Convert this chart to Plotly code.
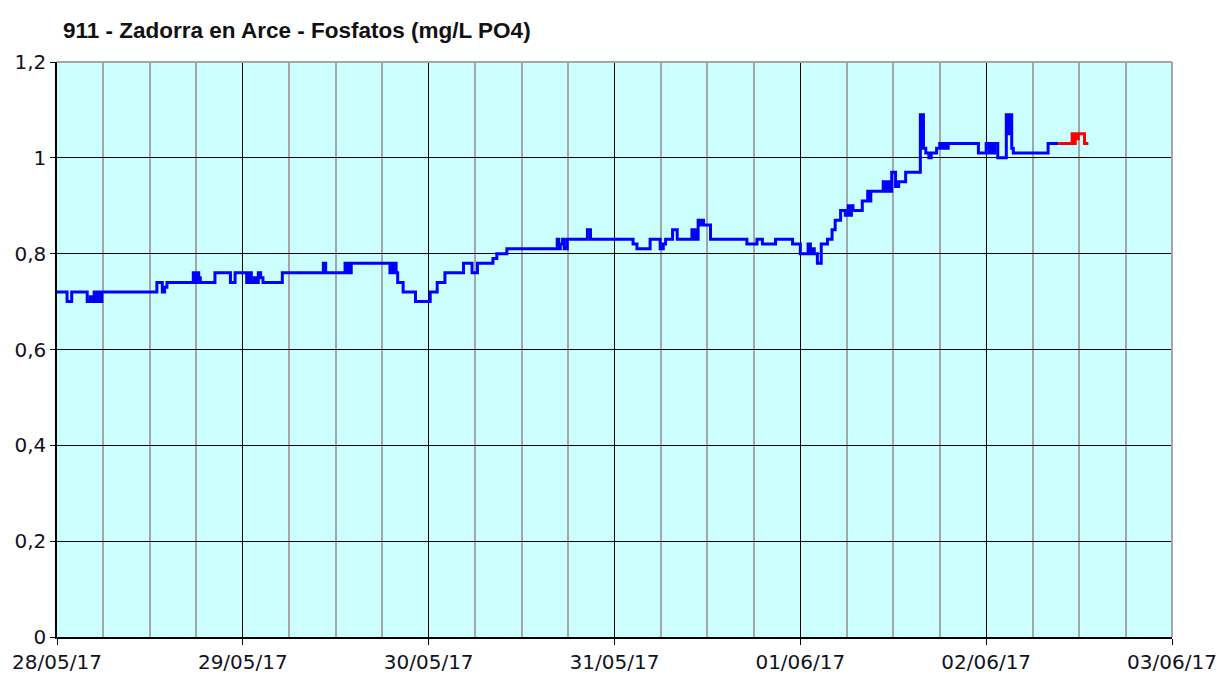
import pandas as pd
import plotly.graph_objects as go

# ---- data: hours since 2017-05-28 00:00 and phosphate values (mg/L PO4) ----
start = "2017-05-28 00:00"

blue_hours = [
    0.0, 1.3, 1.9, 3.9, 4.3, 4.5, 4.8, 5.0, 5.3, 5.5, 5.8,
    12.9, 13.6, 13.9, 14.2, 17.6, 17.9, 18.1, 18.3, 18.5, 20.4, 22.4, 23.0,
    24.5, 24.8, 25.1, 25.5, 25.8, 26.0, 26.3, 26.6, 29.1, 34.4, 34.7,
    37.2, 37.4, 37.6, 37.8, 38.0, 43.0, 43.2, 43.4, 43.6, 43.8, 44.0, 44.7,
    46.3, 48.2, 49.1, 50.1, 52.5, 53.6, 54.3, 56.3, 56.8, 58.1,
    64.6, 64.8, 65.0, 65.3, 65.5, 65.9, 68.5, 68.9, 74.4, 74.9, 76.6, 77.9,
    78.3, 78.6, 79.5, 80.1, 82.0, 82.2, 82.4, 82.6, 82.8, 83.1, 83.3, 83.5,
    84.4, 89.1, 90.4, 91.1, 92.8, 95.0, 96.0, 97.0, 97.3, 97.6, 97.8, 98.2,
    98.7, 99.5, 100.1, 100.5, 101.2, 101.8, 102.2, 102.4, 102.6, 102.8,
    104.0, 104.7, 104.9, 105.1, 106.7, 107.0, 107.3, 107.5, 107.8, 108.3,
    108.7, 109.6, 111.5, 111.7, 111.8, 111.9, 112.2, 112.6, 112.9, 113.6,
    114.0, 114.3, 114.6, 114.8, 115.1, 119.0, 120.0, 120.4, 120.7, 120.9,
    121.1, 121.5, 122.6, 122.9, 123.1, 123.3, 123.5, 128.0, 129.3,
]
blue_values = [
    0.72, 0.70, 0.72, 0.70, 0.71, 0.70, 0.72, 0.70, 0.72, 0.70, 0.72,
    0.74, 0.72, 0.73, 0.74, 0.76, 0.74, 0.76, 0.75, 0.74, 0.76, 0.74, 0.76,
    0.74, 0.76, 0.74, 0.75, 0.74, 0.76, 0.75, 0.74, 0.76, 0.78, 0.76,
    0.78, 0.76, 0.78, 0.76, 0.78, 0.76, 0.78, 0.76, 0.78, 0.76, 0.74, 0.72,
    0.70, 0.72, 0.74, 0.76, 0.78, 0.76, 0.78, 0.79, 0.80, 0.81,
    0.83, 0.81, 0.82, 0.83, 0.81, 0.83, 0.85, 0.83, 0.82, 0.81, 0.83, 0.81,
    0.82, 0.83, 0.85, 0.83, 0.85, 0.83, 0.85, 0.83, 0.87, 0.86, 0.87, 0.86,
    0.83, 0.82, 0.83, 0.82, 0.83, 0.82, 0.80, 0.82, 0.80, 0.81, 0.80, 0.78,
    0.82, 0.83, 0.85, 0.87, 0.89, 0.88, 0.90, 0.88, 0.90, 0.89,
    0.91, 0.93, 0.91, 0.93, 0.95, 0.93, 0.95, 0.93, 0.97, 0.94,
    0.95, 0.97, 1.09, 1.02, 1.09, 1.02, 1.01, 1.00, 1.01, 1.02,
    1.03, 1.02, 1.03, 1.02, 1.03, 1.01, 1.03, 1.01, 1.03, 1.01,
    1.03, 1.00, 1.09, 1.05, 1.09, 1.02, 1.01, 1.03, 1.03,
]

red_hours = [129.3, 131.1, 131.3, 131.5, 131.7, 131.9, 132.7, 133.2]
red_values = [1.03, 1.05, 1.03, 1.05, 1.04, 1.05, 1.03, 1.03]

title_text = "911 - Zadorra en Arce - Fosfatos (mg/L PO4)"
x_range = ["2017-05-28 00:00", "2017-06-03 00:00"]
y_ticks = [0, 0.2, 0.4, 0.6, 0.8, 1.0, 1.2]

t0 = pd.Timestamp(start)
blue_x = [t0 + pd.Timedelta(hours=h) for h in blue_hours]
red_x = [t0 + pd.Timedelta(hours=h) for h in red_hours]

fig = go.Figure()
fig.add_trace(go.Scatter(x=blue_x, y=blue_values, mode="lines", line_shape="hv",
                         line=dict(color="#0000FF", width=3), showlegend=False))
fig.add_trace(go.Scatter(x=red_x, y=red_values, mode="lines", line_shape="hv",
                         line=dict(color="#FF0000", width=3), showlegend=False))

tick_font = dict(family="DejaVu Sans, Verdana, sans-serif", size=20, color="#111122")

fig.update_layout(
    width=1217, height=674,
    margin=dict(l=57, r=45, t=62, b=37, autoexpand=False),
    paper_bgcolor="white",
    plot_bgcolor="#CCFFFF",
    separators=",.",
    title=dict(text="<b>" + title_text + "</b>",
               font=dict(family="Liberation Sans, Arial, sans-serif", size=22.5, color="#111111"),
               x=63 / 1217, xref="container", xanchor="left",
               y=1 - 30 / 674, yref="container", yanchor="middle"),
    xaxis=dict(type="date", range=x_range, tick0="2017-05-28", dtick=86400000,
               tickformat="%d/%m/%y", tickfont=tick_font, automargin=False,
               showgrid=True, gridcolor="black", gridwidth=1,
               showline=True, linecolor="black", linewidth=1.5,
               ticks="outside", ticklen=6, tickcolor="black",
               minor=dict(dtick=6 * 3600 * 1000, tick0="2017-05-28", showgrid=True,
                          gridcolor="#A6A6A6", gridwidth=1.5),
               zeroline=False, fixedrange=True),
    yaxis=dict(range=[0, 1.2], tickvals=y_ticks, tickfont=tick_font, automargin=False,
               showgrid=True, gridcolor="black", gridwidth=1,
               showline=True, linecolor="black", linewidth=1.5,
               ticks="outside", ticklen=5, tickcolor="black",
               zeroline=False, fixedrange=True),
)

# gray plot-area border on top and right (like the reference)
fig.add_shape(type="line", xref="paper", yref="paper", x0=0, x1=1, y0=1, y1=1,
              line=dict(color="#A6A6A6", width=2), layer="above")
fig.add_shape(type="line", xref="paper", yref="paper", x0=1, x1=1, y0=0, y1=1,
              line=dict(color="#A6A6A6", width=2), layer="above")

fig.write_html("out.html", config={"displayModeBar": False},
               post_script="document.body.style.margin='0';document.body.style.overflow='hidden';")
